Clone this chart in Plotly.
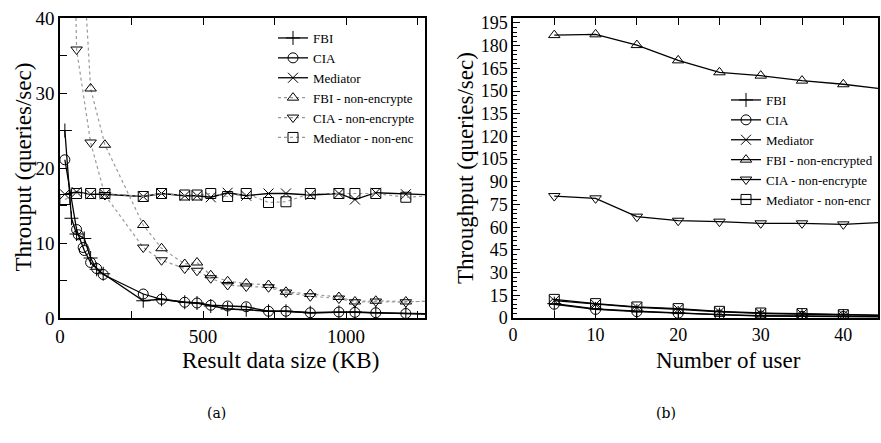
import plotly.graph_objects as go

# ---------------- (a) Result data size ----------------
fbi_x = [17, 40, 58, 85, 107, 128, 151, 291, 355, 436, 479, 527, 586, 651, 729, 790, 875, 975, 1031, 1104, 1209, 1300]
fbi_y = [25, 13.3, 11.2, 10.6, 8.0, 6.5, 5.9, 2.3, 2.5, 2.1, 2.0, 1.6, 1.2, 1.1, 0.9, 0.9, 0.7, 0.75, 0.8, 0.7, 0.6, 0.5]

cia_x = [17, 58, 64, 81, 85, 107, 128, 151, 291, 355, 436, 479, 527, 586, 651, 729, 790, 875, 975, 1031, 1104, 1209, 1300]
cia_y = [21.1, 11.8, 11.1, 9.4, 9.0, 7.4, 6.6, 5.8, 3.2, 2.5, 2.1, 2.0, 1.7, 1.6, 1.5, 0.9, 0.9, 0.7, 0.8, 0.75, 0.7, 0.6, 0.55]

med_x = [17, 58, 107, 157, 291, 355, 436, 479, 527, 586, 651, 729, 790, 875, 975, 1031, 1104, 1209, 1300]
med_y = [16.5, 16.8, 16.5, 16.5, 16.2, 16.6, 16.3, 16.3, 16.1, 16.7, 16.3, 16.6, 16.6, 16.4, 16.6, 15.8, 16.7, 16.5, 16.4]

fbin_x = [17, 58, 107, 157, 291, 355, 436, 479, 527, 586, 651, 729, 790, 875, 975, 1031, 1104, 1209, 1300]
fbin_y = [180, 63, 30.6, 23.1, 12.4, 9.3, 7.2, 7.4, 5.7, 4.9, 4.6, 4.4, 3.5, 3.2, 2.8, 2.2, 2.3, 2.2, 2.2]

cian_x = [17, 58, 107, 157, 291, 355, 436, 479, 527, 586, 651, 729, 790, 875, 975, 1031, 1104, 1209, 1300]
cian_y = [120, 35.8, 23.4, 16.4, 9.4, 7.7, 6.6, 6.3, 5.3, 4.4, 4.2, 4.1, 3.4, 2.9, 2.6, 2.1, 2.2, 2.1, 2.3]

medn_x = [17, 58, 107, 157, 291, 355, 436, 479, 527, 586, 651, 729, 790, 875, 975, 1031, 1104, 1209, 1300]
medn_y = [15.8, 16.6, 16.6, 16.6, 16.2, 16.6, 16.4, 16.4, 16.6, 16.2, 16.6, 15.4, 15.5, 16.6, 16.6, 16.6, 16.6, 16.1, 16.3]

# ---------------- (b) Number of user ----------------
users = [5, 10, 15, 20, 25, 30, 35, 40, 45]
b_fbi = [9.5, 6.0, 4.5, 3.3, 2.2, 1.6, 1.3, 1.2, 1.0]
b_cia = [9.1, 5.7, 4.2, 3.1, 2.0, 1.3, 1.1, 1.0, 0.8]
b_med = [11.5, 9.0, 7.0, 5.8, 4.0, 3.0, 2.6, 2.0, 1.6]
b_fbin = [187, 187.5, 180.4, 170.3, 162.4, 160.2, 156.9, 154.5, 151.2]
b_cian = [80.6, 79.1, 67.0, 64.3, 63.7, 62.6, 62.6, 61.9, 63.2]
b_medn = [12.3, 9.5, 7.3, 6.2, 4.4, 3.3, 2.9, 2.2, 1.8]

names_a = ["FBI", "CIA", "Mediator", "FBI - non-encrypte", "CIA - non-encrypte", "Mediator - non-enc"]
names_b = ["FBI", "CIA", "Mediator", "FBI - non-encrypted", "CIA - non-encrypte", "Mediator - non-encr"]
symbols = ["cross-thin-open", "circle-open", "x-thin-open", "triangle-up-open", "triangle-down-open", "square-open"]

FONT = "Liberation Serif, Times New Roman, Times, serif"
fig = go.Figure()

series_a = [(fbi_x, fbi_y), (cia_x, cia_y), (med_x, med_y), (fbin_x, fbin_y), (cian_x, cian_y), (medn_x, medn_y)]
for i, ((xs, ys), nm, sym) in enumerate(zip(series_a, names_a, symbols)):
    dotted = i >= 3
    fig.add_trace(go.Scatter(
        x=xs, y=ys, name=nm, mode="lines+markers", xaxis="x", yaxis="y", legend="legend",
        line=dict(color="#999999" if dotted else "black", width=1.2 if dotted else 1.3,
                  dash="dot" if dotted else "solid"),
        marker=dict(symbol=sym, size=10, color="black", line=dict(color="black", width=1)),
    ))

series_b = [b_fbi, b_cia, b_med, b_fbin, b_cian, b_medn]
for ys, nm, sym in zip(series_b, names_b, symbols):
    fig.add_trace(go.Scatter(
        x=users, y=ys, name=nm, mode="lines+markers", xaxis="x2", yaxis="y2", legend="legend2",
        line=dict(color="black", width=1.3),
        marker=dict(symbol=sym, size=10, color="black", line=dict(color="black", width=1)),
    ))

axis_common = dict(showline=True, linecolor="black", linewidth=1.5, showgrid=False, zeroline=False,
                   ticks="inside", tickcolor="black", tickwidth=1.2, automargin=False)
tf_a = dict(family=FONT, size=19, color="black")
tf_b = dict(family=FONT, size=18, color="black")
title_font = dict(family=FONT, size=23, color="black")

fig.update_layout(
    width=881, height=443, autosize=False, margin=dict(l=0, r=0, t=0, b=0, pad=0, autoexpand=False),
    paper_bgcolor="white", plot_bgcolor="white",
    font=dict(family=FONT, color="black"),
    xaxis=dict(domain=[60/881, 425/881], range=[0, 1276], anchor="y", dtick=500, ticklen=7,
               mirror="ticks", minor=dict(dtick=250, ticks="inside", ticklen=7, tickcolor="black"),
               tickfont=tf_a, **axis_common),
    yaxis=dict(domain=[125/443, 425/443], range=[0, 40], anchor="x", dtick=10, ticklen=7,
               mirror=True, minor=dict(dtick=5, ticks="inside", ticklen=7, tickcolor="black"),
               tickfont=tf_a, **axis_common),
    xaxis2=dict(domain=[513/881, 878/881], range=[0, 44.2], anchor="y2", dtick=10, ticklen=7,
                mirror="ticks", minor=dict(dtick=5, ticks="inside", ticklen=7, tickcolor="black"),
                tickfont=tf_b, **axis_common),
    yaxis2=dict(domain=[125/443, 425/443], range=[0, 198.3], anchor="x2", dtick=15, ticklen=7,
                mirror=True, minor=dict(dtick=3, ticks="inside", ticklen=4, tickcolor="black"),
                tickfont=tf_b, **axis_common),
    legend=dict(x=273/881, y=(443-23)/443, xanchor="left", yanchor="top", bgcolor="rgba(0,0,0,0)",
                font=dict(family=FONT, size=13), itemwidth=30, tracegroupgap=0),
    legend2=dict(x=726/881, y=(443-85)/443, xanchor="left", yanchor="top", bgcolor="rgba(0,0,0,0)",
                 font=dict(family=FONT, size=13), itemwidth=30, tracegroupgap=0),
    annotations=[
        dict(text="Result data size (KB)", x=280/881, y=(443-360)/443, xref="paper", yref="paper",
             showarrow=False, xanchor="center", yanchor="middle", font=title_font),
        dict(text="Number of user", x=728/881, y=(443-360)/443, xref="paper", yref="paper",
             showarrow=False, xanchor="center", yanchor="middle", font=title_font),
        dict(text="Throuput (queries/sec)", x=22.5/881, y=(443-167)/443, xref="paper", yref="paper",
             showarrow=False, xanchor="center", yanchor="middle", textangle=-90, font=title_font),
        dict(text="Throughput (queries/sec)", x=465/881, y=(443-168)/443, xref="paper", yref="paper",
             showarrow=False, xanchor="center", yanchor="middle", textangle=-90, font=title_font),
        dict(text="(a)", x=216/881, y=(443-413)/443, xref="paper", yref="paper", showarrow=False,
             xanchor="center", yanchor="middle", font=dict(family="DejaVu Serif", size=14)),
        dict(text="(b)", x=666/881, y=(443-413)/443, xref="paper", yref="paper", showarrow=False,
             xanchor="center", yanchor="middle", font=dict(family="DejaVu Serif", size=14)),
    ],
)

fig.write_html("out.html")
